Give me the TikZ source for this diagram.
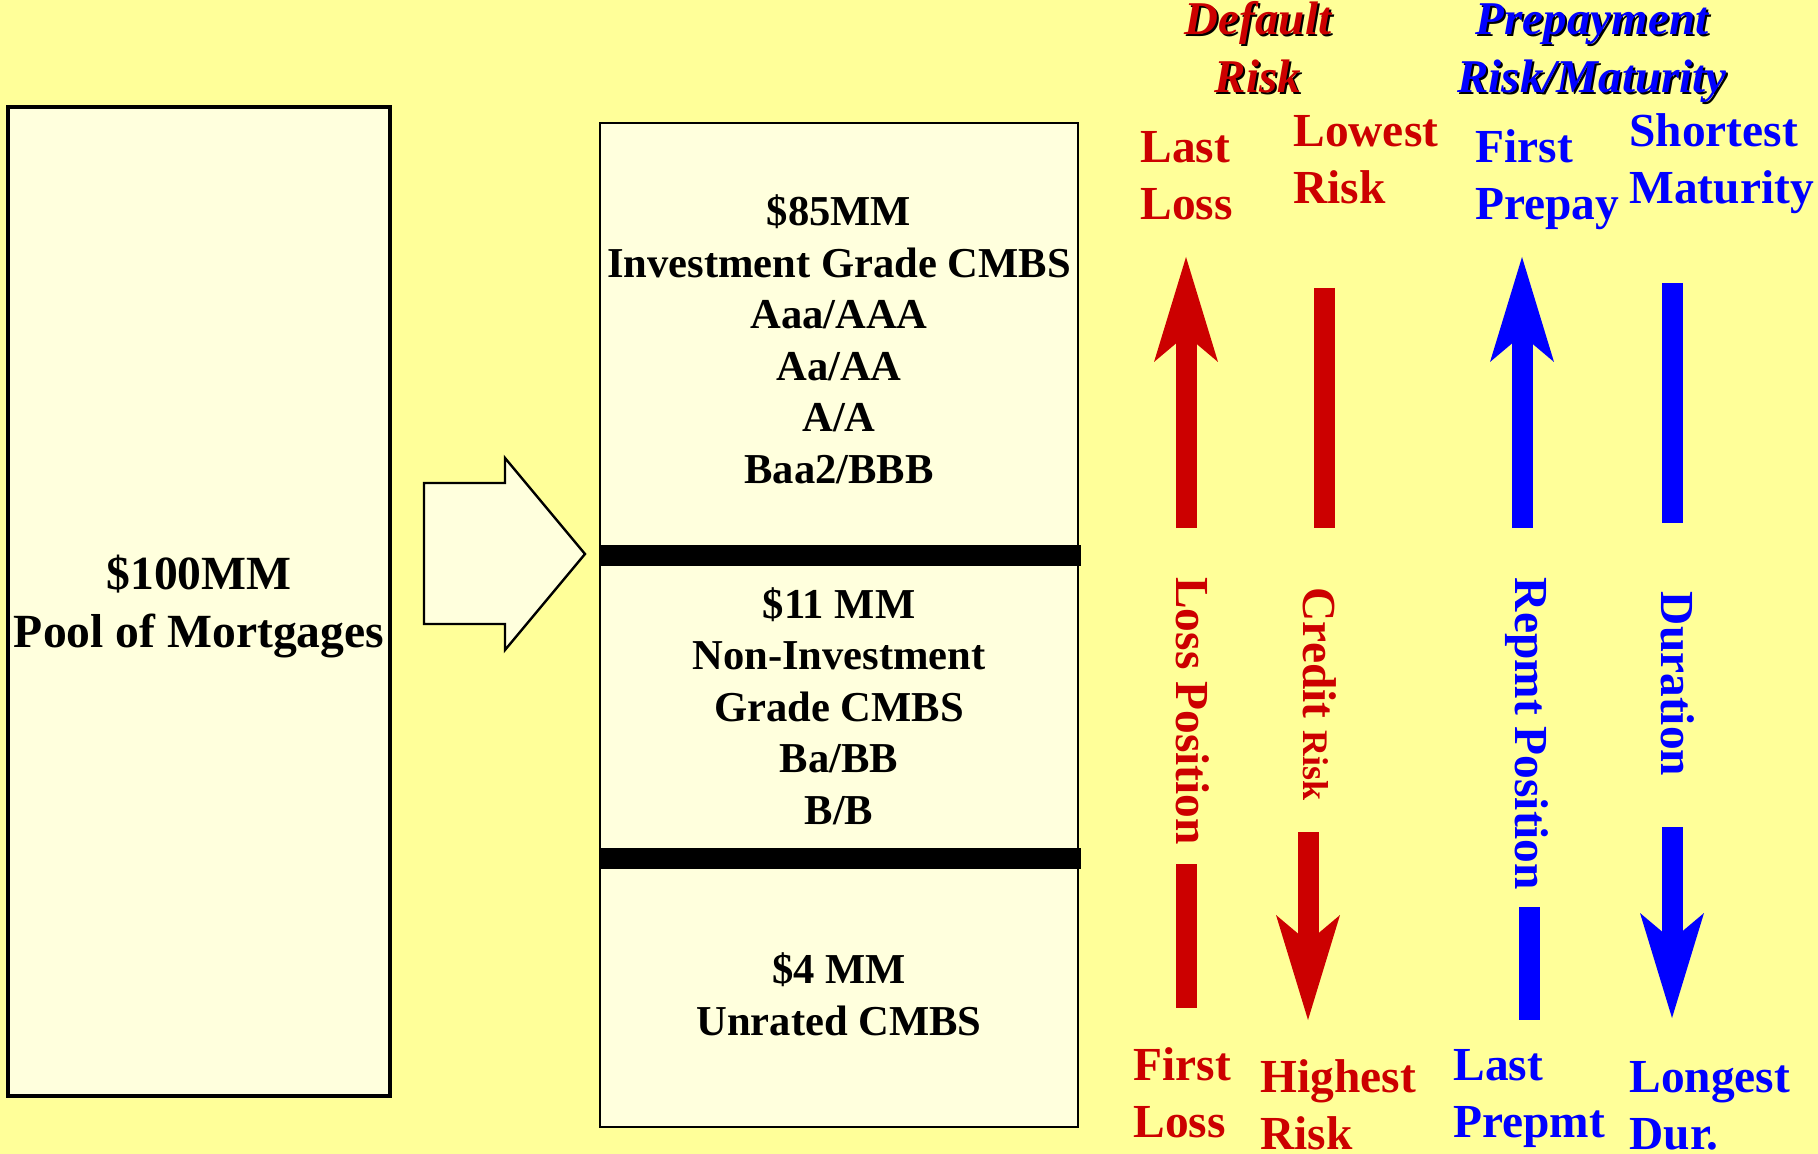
\documentclass[tikz,border=0pt]{standalone}
\usepackage{fontspec}
\setmainfont{Liberation Serif}
\usetikzlibrary{arrows.meta}

\definecolor{slidebg}{HTML}{FFFF99}
\definecolor{boxfill}{HTML}{FFFFDD}
\definecolor{riskred}{HTML}{CC0000}
\definecolor{prepblue}{HTML}{0000FF}

\tikzset{
  pooltxt/.style={font=\bfseries\fontsize{23.8}{29}\selectfont, align=center},
  tranche/.style={font=\bfseries\fontsize{21.3}{25.7}\selectfont, align=center, anchor=base, inner sep=0pt},
  lbl/.style={font=\bfseries\fontsize{23.7}{28.5}\selectfont, align=left, anchor=base west, inner sep=0pt},
  side/.style={font=\bfseries\fontsize{23.7}{28.5}\selectfont, rotate=-90, inner sep=0pt},
  head/.style={font=\bfseries\itshape\fontsize{23.5}{29}\selectfont, align=center, anchor=base, inner sep=0pt},
  shaft/.style={line width=10.5pt},
  bigtip/.style={-{Stealth[length=52.5pt,width=32pt,inset=13.5pt,line width=0pt]}}
}

\begin{document}
\begin{tikzpicture}[x=0.5pt,y=-0.5pt]
      \fill[slidebg] (0,0) rectangle (1818,1154);
      \useasboundingbox (0,0) rectangle (1818,1154);

      % mortgage pool and the block arrow into the tranches
      \path[draw, line width=1.6pt, fill=boxfill] (8,107) rectangle (390,1096);
      \node[pooltxt] (pool) at (199,607) {\$100MM\\Pool of Mortgages};
      \path[draw, line width=1.2pt, fill=boxfill] (424,483) -- (505,483) -- (505,458) -- (585,554)
        -- (505,650) -- (505,624) -- (424,624) -- cycle;

      % tranche stack (base anchor sits on the last line)
      \path[draw, line width=1.3pt, fill=boxfill] (600,123) rectangle (1078,1127);
      \draw[line width=10.5pt] (599,555.5) -- (1081,555.5);
      \draw[line width=10.5pt] (599,858) -- (1081,858);
      \node[tranche] (senior) at (839,483)
        {\$85MM\\Investment Grade CMBS\\Aaa/AAA\\Aa/AA\\A/A\\Baa2/BBB};
      \node[tranche] (mezz) at (839,824) {\$11 MM\\Non-Investment\\Grade CMBS\\Ba/BB\\B/B};
      \node[tranche] (unrated) at (839,1035) {\$4 MM\\Unrated CMBS};

      \foreach \id / \x / \col / \lb in {defrisk/1258/riskred/{Default\\Risk},
                                        preprisk/1592/prepblue/{Prepayment\\Risk/Maturity}}{
        \node[head, text=black] (\id-shadow) at (\x+2, 95) {\lb};
        \node[head, text=\col] (\id) at (\x, 93) {\lb};
      }

      \def \Labels{
        lastloss/1140/220/riskred/{Last\\Loss},
        lowrisk/1293/204/riskred/{Lowest\\Risk},
        firstprep/1475/220/prepblue/{First\\Prepay},
        shortmat/1629/204/prepblue/{Shortest\\Maturity},
        firstloss/1133/1137/riskred/{First\\Loss},
        highrisk/1260/1149/riskred/{Highest\\Risk},
        lastprep/1453/1137/prepblue/{Last\\Prepmt},
        longdur/1629/1149/prepblue/{Longest\\Dur.}}
      \foreach \id / \x / \y / \col / \lb in \Labels{
        \node[lbl, text=\col] (\id) at (\x, \y) {\lb};
      }

      \node[side, text=riskred] (losspos) at (1193,711) {Loss Position};
      \node[side, text=riskred] (credrisk) at (1320,694) {Credit {\fontsize{18}{20}\selectfont Risk}};
      \node[side, text=prepblue] (repmtpos) at (1527,734) {Repmt Position};
      \node[side, text=prepblue] (durat) at (1678,684) {Duration};

      \def \Shafts{
        1186/528/257/riskred/bigtip,
        1186/864/1008/riskred/-,
        1324/288/528/riskred/-,
        1308/832/1020/riskred/bigtip,
        1522/528/257/prepblue/bigtip,
        1529/907/1020/prepblue/-,
        1672/283/523/prepblue/-,
        1672/827/1018/prepblue/bigtip}
      \foreach \x / \ya / \yb / \col / \tp [count=\i] in \Shafts{
        \coordinate (s\i-a) at (\x, \ya);
        \coordinate (s\i-b) at (\x, \yb);
        \path[draw, shaft, \tp, color=\col] (s\i-a) -- (s\i-b);
      }

      \node[font=\fontsize{15}{18}\selectfont, anchor=base] (pageno) at (1700,1175) {13};
    \end{tikzpicture}
\end{document}
